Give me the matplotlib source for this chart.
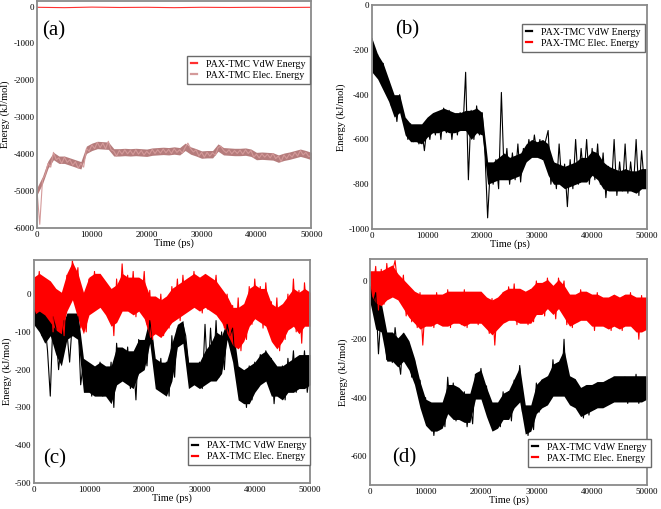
import numpy as np
import matplotlib
matplotlib.use("Agg")
import matplotlib.pyplot as plt

plt.rcParams["font.family"] = ["Liberation Serif", "DejaVu Serif"]
plt.rcParams["axes.unicode_minus"] = False

# traces, one point every 500 ps (0 .. 50000)
a_vdw = [-20, -30, -15, -25, -20, -30, -20, -25, -20, -25, -20]
a_elec = [
    -5000, -5900, -4700, -4550, -4250, -4350, -3950, -4150, -4100, -4250,
    -4080, -4220, -4150, -4300, -4200, -4380, -4250, -4350, -3850, -3920,
    -3750, -3850, -3680, -3820, -3700, -3850, -3650, -3880, -3920, -4050,
    -3900, -4000, -3880, -3990, -3900, -4010, -3880, -4000, -3900, -4020,
    -3920, -4000, -3870, -3980, -3880, -3970, -3860, -3960, -3870, -3980,
    -3850, -3950, -3880, -3970, -3820, -3700, -3850, -3940, -3880, -4050,
    -3950, -4080, -3950, -4050, -3960, -4030, -3820, -3780, -3900, -3960,
    -3880, -3990, -3900, -3980, -3890, -4000, -3880, -3980, -3900, -4080,
    -4000, -4100, -3990, -4080, -4000, -4100, -3980, -4120, -4050, -4200,
    -4020, -4120, -4000, -4080, -3950, -4050, -3900, -4020, -3950, -4060,
    -4050,
]

b_vdw = [
    -150, -300, -220, -330, -260, -380, -340, -450, -420, -520,
    -400, -500, -520, -600, -530, -610, -540, -620, -550, -650,
    -540, -600, -490, -580, -480, -600, -460, -570, -470, -600,
    -490, -580, -480, -560, -300, -780, -470, -600, -450, -580,
    -480, -650, -950, -720, -800, -690, -820, -390, -760, -640,
    -800, -660, -780, -620, -790, -640, -700, -600, -680, -580,
    -670, -600, -690, -610, -560, -800, -700, -820, -620, -800,
    -710, -900, -690, -820, -600, -800, -640, -780, -600, -800,
    -640, -780, -620, -800, -660, -860, -720, -820, -600, -850,
    -700, -830, -620, -840, -700, -820, -600, -850, -650, -800,
    -760,
]
b_elec = [20, 20, 20, 20, 20, 20, 20, 20, 20, 20, 20]  # not visible: above the frame

c_vdw = [
    -40, -60, -50, -110, -70, -150, -270, -60, -90, -200,
    -130, -70, -100, -180, -70, -100, -60, -240, -180, -250,
    -190, -270, -200, -260, -180, -270, -210, -260, -180, -300,
    -130, -230, -150, -220, -140, -250, -160, -280, -120, -200,
    -130, -190, -70, -120, -200, -250, -170, -260, -180, -270,
    -110, -220, -90, -120, -80, -110, -180, -240, -190, -230,
    -180, -250, -80, -230, -90, -210, -70, -220, -100, -200,
    -80, -110, -90, -180, -200, -280, -210, -300, -190, -280,
    -180, -250, -160, -220, -150, -230, -170, -290, -200, -270,
    -190, -280, -170, -240, -150, -260, -170, -240, -150, -260,
    -200,
]
c_elec = [
    20, -40, 60, -30, 40, -60, 30, -100, 10, -90,
    -30, -110, 50, -20, 90, 10, 70, -90, 0, -100,
    40, -40, 60, -30, 50, -20, 30, -60, 10, -110,
    40, -50, 80, -30, 50, -40, 60, -60, 40, -30,
    60, -80, 10, -120, -10, -100, 0, -110, -20, -90,
    20, -60, 40, -70, 50, -40, 40, -30, 60, -30,
    30, -50, 50, -40, 40, -20, 50, -60, 10, -90,
    0, -110, -30, -140, -10, -150, -40, -120, 20, -80,
    40, -60, 20, -90, 30, -70, -20, -130, -10, -150,
    -30, -120, 0, -90, 40, -100, 10, -130, 30, -60,
    -10,
]

d_vdw = [
    -20, -80, -40, -250, -100, -160, -270, -200, -280, -160,
    -250, -320, -180, -260, -230, -330, -270, -360, -340, -450,
    -400, -500, -420, -530, -430, -510, -420, -500, -330, -460,
    -350, -480, -370, -470, -380, -500, -410, -490, -320, -380,
    -300, -420, -360, -470, -420, -510, -440, -500, -380, -470,
    -380, -480, -340, -420, -290, -450, -430, -530, -440, -510,
    -350, -450, -340, -430, -330, -400, -270, -380, -280, -390,
    -200, -400, -330, -420, -340, -440, -380, -470, -360, -460,
    -370, -440, -350, -430, -360, -420, -340, -410, -330, -410,
    -340, -400, -330, -420, -340, -410, -320, -420, -340, -400,
    -360,
]
d_elec = [
    30, -40, 50, -100, 40, -80, 60, -40, 30, 70,
    -20, -60, 20, -120, -30, -140, -50, -160, -40, -220,
    -60, -150, -50, -160, -40, -140, -60, -150, -30, -160,
    -40, -140, -50, -150, -30, -160, -40, -130, -50, -150,
    -40, -140, -70, -180, -60, -220, -70, -150, -40, -140,
    -20, -130, -10, -150, -30, -140, -40, -150, -30, -140,
    0, -100, -10, -120, 10, -80, -20, -130, 10, -60,
    0, -150, -60, -160, -50, -140, -30, -120, -40, -130,
    -50, -170, -40, -150, -70, -140, -60, -170, -50, -150,
    -60, -170, -50, -150, -40, -160, -60, -200, -50, -170,
    -100,
]

# dense core of each trace (where the line is a solid band), every 1000 ps
a_elec_hi = [
    -4900, -4600, -4180, -3950, -4050, -4050, -4100, -4150, -4200, -3780,
    -3700, -3650, -3660, -3670, -3850, -3850, -3840, -3850, -3840, -3850,
    -3860, -3830, -3820, -3810, -3820, -3800, -3820, -3700, -3800, -3850,
    -3910, -3900, -3900, -3720, -3820, -3830, -3840, -3840, -3830, -3860,
    -3950, -3940, -3950, -3960, -4020, -3970, -3940, -3900, -3860, -3900,
    -3950,
]
a_elec_lo = [
    -5100, -4800, -4380, -4150, -4250, -4250, -4300, -4350, -4400, -3980,
    -3900, -3850, -3860, -3870, -4050, -4050, -4040, -4050, -4040, -4050,
    -4060, -4030, -4020, -4010, -4020, -4000, -4020, -3900, -4000, -4050,
    -4110, -4100, -4100, -3920, -4020, -4030, -4040, -4040, -4030, -4060,
    -4150, -4140, -4150, -4160, -4220, -4170, -4140, -4100, -4060, -4100,
    -4150,
]
b_vdw_hi = [
    -150, -220, -260, -330, -400, -400, -500, -530, -530, -530,
    -500, -480, -470, -460, -470, -480, -480, -470, -470, -460,
    -480, -700, -700, -680, -660, -680, -670, -660, -620, -600,
    -610, -600, -620, -700, -710, -720, -710, -700, -680, -680,
    -650, -660, -700, -720, -730, -740, -730, -740, -740, -730,
    -730,
]
b_vdw_lo = [
    -300, -330, -380, -430, -500, -480, -580, -610, -610, -620,
    -590, -570, -570, -560, -570, -570, -560, -560, -600, -570,
    -580, -800, -790, -780, -780, -780, -770, -760, -700, -680,
    -680, -690, -760, -800, -800, -820, -810, -800, -790, -790,
    -760, -780, -820, -830, -830, -830, -830, -830, -840, -820,
    -820,
]
c_vdw_hi = [
    -20, -30, -50, -40, -80, -90, -50, -50, -50, -170,
    -180, -190, -180, -190, -190, -140, -140, -150, -150, -120,
    -120, -60, -170, -180, -180, -130, -80, -70, -180, -180,
    -180, -150, -130, -100, -110, -70, -80, -190, -200, -190,
    -180, -160, -150, -170, -190, -190, -180, -170, -160, -160,
    -160,
]
c_vdw_lo = [
    -80, -100, -130, -110, -160, -190, -120, -110, -120, -260,
    -260, -270, -270, -270, -290, -240, -230, -240, -250, -210,
    -200, -130, -250, -260, -270, -230, -140, -130, -250, -240,
    -250, -240, -230, -230, -210, -120, -180, -280, -290, -290,
    -260, -240, -230, -270, -270, -280, -260, -260, -250, -250,
    -240,
]
c_elec_hi = [
    45, 55, 45, 35, 15, 5, 55, 85, 55, 5,
    45, 55, 55, 35, 15, 25, 55, 45, 45, 45,
    35, -5, -5, -15, -5, 15, 25, 35, 45, 55,
    45, 55, 45, 35, 15, -5, -35, -35, -25, 15,
    25, 15, 15, -25, -35, -25, -5, 15, 5, 15,
    5,
]
c_elec_lo = [
    -55, -45, -55, -75, -95, -105, -45, -15, -65, -105,
    -55, -45, -35, -55, -85, -75, -45, -45, -55, -45,
    -65, -115, -105, -115, -95, -75, -65, -55, -45, -35,
    -45, -35, -45, -55, -75, -105, -135, -145, -125, -85,
    -65, -75, -85, -125, -145, -125, -95, -85, -105, -85,
    -85,
]
d_vdw_hi = [
    5, -45, -75, -175, -175, -195, -175, -205, -265, -345,
    -405, -415, -415, -415, -355, -355, -365, -385, -385, -315,
    -305, -365, -415, -415, -385, -375, -335, -295, -425, -425,
    -355, -335, -325, -285, -275, -235, -325, -335, -365, -355,
    -355, -345, -345, -335, -325, -325, -325, -325, -325, -325,
    -325,
]
d_vdw_lo = [
    -75, -165, -175, -275, -275, -295, -275, -305, -355, -435,
    -495, -515, -515, -505, -455, -475, -475, -485, -485, -405,
    -405, -465, -515, -505, -475, -475, -435, -415, -525, -515,
    -455, -435, -425, -395, -395, -395, -425, -435, -465, -455,
    -445, -435, -435, -425, -415, -415, -415, -415, -415, -415,
    -405,
]
d_elec_hi = [
    35, 35, 35, 45, 55, 25, 5, -15, -35, -45,
    -45, -45, -45, -45, -35, -35, -35, -35, -35, -35,
    -35, -55, -65, -55, -35, -25, -25, -25, -35, -25,
    -5, -5, 5, -15, 5, -15, -45, -45, -35, -35,
    -45, -45, -55, -55, -45, -55, -45, -45, -55, -55,
    -55,
]
d_elec_lo = [
    -45, -75, -85, -65, -55, -65, -95, -125, -145, -165,
    -155, -155, -145, -155, -155, -145, -145, -155, -145, -145,
    -145, -165, -185, -165, -145, -135, -135, -145, -145, -145,
    -115, -115, -95, -115, -95, -125, -155, -145, -135, -135,
    -155, -155, -155, -165, -155, -165, -155, -155, -175, -175,
    -165,
]

x_ticks = [0, 10000, 20000, 30000, 40000, 50000]
names = ["PAX-TMC VdW Energy", "PAX-TMC Elec. Energy"]

panels = [
    # tag, (trace, band lo, band hi, line colour, band colour) x2, rect, ylim, yticks,
    # legend anchor, loc, tag pos
    ("(a)", (a_vdw, None, None, "#ff3030", None),
     (a_elec, a_elec_lo, a_elec_hi, "#d49a9a", "#b57c7c"),
     [0.056, 0.552, 0.415, 0.446], (-6000, 150), range(-6000, 1, 1000),
     (0.53, 0.78), "upper left", (0.02, 0.87)),
    ("(b)", (b_vdw, b_vdw_lo, b_vdw_hi, "black", "black"), (b_elec, None, None, "red", None),
     [0.563, 0.550, 0.416, 0.440], (-1000, 0), range(-1000, 1, 200),
     (0.527, 0.94), "upper left", (0.084, 0.89)),
    ("(c)", (c_vdw, c_vdw_lo, c_vdw_hi, "black", "black"),
     (c_elec, c_elec_lo, c_elec_hi, "red", "red"),
     [0.051, 0.051, 0.418, 0.438], (-500, 90), range(-500, 1, 100),
     (0.54, 0.058), "lower left", (0.033, 0.11)),
    ("(d)", (d_vdw, d_vdw_lo, d_vdw_hi, "black", "black"),
     (d_elec, d_elec_lo, d_elec_hi, "red", "red"),
     [0.560, 0.047, 0.419, 0.444], (-700, 75), range(-600, 1, 200),
     (0.552, 0.058), "lower left", (0.08, 0.12)),
]

fig = plt.figure(figsize=(6.61, 5.09), dpi=100)

for tag, s1, s2, rect, ylim, yt, anchor, loc, tpos in panels:
    ax = fig.add_axes(rect)
    for (vals, lo, hi, col, bcol), name in zip((s1, s2), names):
        if lo is not None:
            tb = np.linspace(0, 50000, len(lo))
            ax.fill_between(tb, lo, hi, color=bcol, lw=0)
        t = np.linspace(0, 50000, len(vals))
        ax.plot(t, vals, color=col, lw=0.8, label=name)
    ax.set_xlim(0, 50000)
    ax.set_ylim(*ylim)
    ax.set_xticks(x_ticks)
    ax.set_yticks(list(yt))
    ax.tick_params(length=0, labelsize=6.5, pad=2)
    for s in ax.spines.values():
        s.set_color("#8a8a8a")
        s.set_linewidth(1.3)
    ax.set_xlabel("Time (ps)", fontsize=7.5, labelpad=0)
    ax.set_ylabel("Energy (kJ/mol)", fontsize=7.5, labelpad=2)
    ax.text(tpos[0], tpos[1], tag, transform=ax.transAxes, fontsize=15,
            va="center", ha="left")
    leg = ax.legend(loc=loc, bbox_to_anchor=anchor, fontsize=7.2, handlelength=0.6,
                    handletextpad=0.9, borderpad=0.4, labelspacing=0.2,
                    fancybox=False, framealpha=1)
    for h in leg.legend_handles:
        h.set_linewidth(1.6)
    leg.get_frame().set_edgecolor("#6a6a6a")
    leg.get_frame().set_linewidth(1.0)

fig.savefig("out.png", dpi=100)
